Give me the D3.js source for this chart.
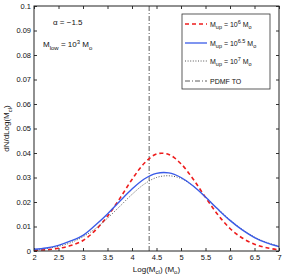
<!DOCTYPE html>
<html>
<head>
<meta charset="utf-8">
<script src="https://cdn.jsdelivr.net/npm/d3@7"></script>
<style>
  body { margin: 0; background: #fff; }
  svg text { font-family: "Liberation Sans", Arial, sans-serif; fill: #111; }
</style>
</head>
<body>
<div id="chart"></div>
<script>
"use strict";

/* ── Data ── */
const logM = [2, 2.25, 2.5, 2.75, 3, 3.25, 3.5, 3.75, 4, 4.25, 4.5,
              4.75, 5, 5.25, 5.5, 5.75, 6, 6.25, 6.5, 6.75, 7];
const mUp6   = [0.0003, 0.0005, 0.0011, 0.0022, 0.0043, 0.0084, 0.0142, 0.0214, 0.0292, 0.0358, 0.0396,
                0.0394, 0.0356, 0.0293, 0.0219, 0.0149, 0.0092, 0.0053, 0.0028, 0.0013, 0.0005];
const mUp65  = [0.0007, 0.0012, 0.0023, 0.0041, 0.0064, 0.0105, 0.0151, 0.0203, 0.0253, 0.0294, 0.0317,
                0.0319, 0.0300, 0.0265, 0.0220, 0.0171, 0.0125, 0.0086, 0.0055, 0.0033, 0.0018];
const mUp7   = [0.0005, 0.0010, 0.0019, 0.0034, 0.0058, 0.0091, 0.0134, 0.0182, 0.0231, 0.0273, 0.0300,
                0.0307, 0.0296, 0.0265, 0.0222, 0.0173, 0.0127, 0.0088, 0.0057, 0.0035, 0.0020];
const pdmfTO = 4.35;

const xTicks = [2, 2.5, 3, 3.5, 4, 4.5, 5, 5.5, 6, 6.5, 7];
const yTicks = [0, 0.01, 0.02, 0.03, 0.04, 0.05, 0.06, 0.07, 0.08, 0.09, 0.1];

/* ── Layout ── */
const W = 284, H = 277;
const margin = { top: 6, right: 5, bottom: 26, left: 34 };
const width  = W - margin.left - margin.right;
const height = H - margin.top - margin.bottom;

const svg = d3.select("#chart").append("svg")
  .attr("width", W).attr("height", H);
const g = svg.append("g")
  .attr("transform", `translate(${margin.left},${margin.top})`);

const x = d3.scaleLinear().domain([2, 7]).range([0, width]);
const y = d3.scaleLinear().domain([0, 0.1]).range([height, 0]);

/* ── Axes (MATLAB style: ticks inward, box) ── */
const tickLen = 3;
g.append("g")
  .attr("transform", `translate(0,${height})`)
  .call(d3.axisBottom(x).tickValues(xTicks).tickSize(-tickLen).tickPadding(3)
        .tickFormat(d3.format("")))
  .call(a => {
    a.select(".domain").remove();
    a.selectAll(".tick line").attr("stroke", "#333");
    a.selectAll(".tick text").attr("font-size", "7.5px").attr("dy", "0.75em");
  });
g.append("g")
  .call(d3.axisTop(x).tickValues(xTicks).tickSize(-tickLen).tickFormat(""))
  .call(a => { a.select(".domain").remove(); a.selectAll(".tick line").attr("stroke", "#333"); });

g.append("g")
  .call(d3.axisLeft(y).tickValues(yTicks).tickSize(-tickLen).tickPadding(3)
        .tickFormat(d => d === 0 ? "0" : d3.format("")(+d.toFixed(2))))
  .call(a => {
    a.select(".domain").remove();
    a.selectAll(".tick line").attr("stroke", "#333");
    a.selectAll(".tick text").attr("font-size", "7.5px");
  });
g.append("g")
  .attr("transform", `translate(${width},0)`)
  .call(d3.axisRight(y).tickValues(yTicks).tickSize(-tickLen).tickFormat(""))
  .call(a => { a.select(".domain").remove(); a.selectAll(".tick line").attr("stroke", "#333"); });

/* ── PDMF turnover line ── */
g.append("line")
  .attr("x1", x(pdmfTO)).attr("x2", x(pdmfTO))
  .attr("y1", 0).attr("y2", height)
  .attr("stroke", "#333").attr("stroke-width", 0.8)
  .attr("stroke-dasharray", "5,2,1,2");

/* ── Curves ── */
const series = [
  { vals: mUp6,  color: "#ee1c1c", width: 1.6, dash: "4,3" },
  { vals: mUp7,  color: "#555",    width: 1.0, dash: "1,1.6" },
  { vals: mUp65, color: "#3a5be8", width: 1.4, dash: null }
];
const line = d3.line()
  .x((d, i) => x(logM[i]))
  .y(d => y(d))
  .curve(d3.curveCatmullRom);

series.forEach(s => {
  g.append("path")
    .datum(s.vals)
    .attr("d", line)
    .attr("fill", "none")
    .attr("stroke", s.color)
    .attr("stroke-width", s.width)
    .attr("stroke-dasharray", s.dash);
});

/* ── Box ── */
g.append("rect")
  .attr("x", 0).attr("y", 0)
  .attr("width", width).attr("height", height)
  .attr("fill", "none").attr("stroke", "#222").attr("stroke-width", 1);

/* ── Annotations ── */
g.append("text")
  .attr("x", 19).attr("y", 19)
  .attr("font-size", "8px")
  .text("\u03b1 = \u22121.5");

const mlow = g.append("text").attr("x", 9).attr("y", 41).attr("font-size", "8px");
mlow.append("tspan").text("M");
mlow.append("tspan").attr("font-size", "6px").attr("dy", 2.5).text("low");
mlow.append("tspan").attr("dy", -2.5).text(" = 10");
mlow.append("tspan").attr("font-size", "6px").attr("dy", -3).text("3");
mlow.append("tspan").attr("dy", 3).text(" M");
mlow.append("tspan").attr("font-size", "6px").attr("dy", 2.5).text("o");

/* ── Legend ── */
const lg = g.append("g").attr("transform", `translate(${182 - margin.left},${14 - margin.top})`);
lg.append("rect")
  .attr("width", 88).attr("height", 75)
  .attr("fill", "#fff").attr("stroke", "#333").attr("stroke-width", 0.8);

const legendItems = [
  { exp: "6",   color: "#ee1c1c", width: 1.4, dash: "4,3" },
  { exp: "6.5", color: "#3a5be8", width: 1.3, dash: null },
  { exp: "7",   color: "#555",    width: 1.0, dash: "1,1.6" },
  { exp: null,  color: "#333",    width: 0.8, dash: "5,2,1,2" }
];
const rowY = [10, 29, 47, 67];

legendItems.forEach((it, i) => {
  const ry = rowY[i];
  lg.append("line")
    .attr("x1", 3).attr("x2", 25).attr("y1", ry).attr("y2", ry)
    .attr("stroke", it.color).attr("stroke-width", it.width)
    .attr("stroke-dasharray", it.dash);
  const t = lg.append("text").attr("x", 28).attr("y", ry + 2.5).attr("font-size", "7px");
  if (it.exp === null) {
    t.text("PDMF TO");
  } else {
    t.append("tspan").text("M");
    t.append("tspan").attr("font-size", "5.5px").attr("dy", 2.5).text("up");
    t.append("tspan").attr("dy", -2.5).text(" = 10");
    t.append("tspan").attr("font-size", "5.5px").attr("dy", -3).text(it.exp);
    t.append("tspan").attr("dy", 3).text(" M");
    t.append("tspan").attr("font-size", "5.5px").attr("dy", 2.5).text("o");
  }
});

/* ── Axis titles ── */
const xl = svg.append("text")
  .attr("x", margin.left + width / 2).attr("y", 272)
  .attr("text-anchor", "middle").attr("font-size", "8px");
xl.append("tspan").text("Log(M");
xl.append("tspan").attr("font-size", "6px").attr("dy", 2).text("cl");
xl.append("tspan").attr("dy", -2).text(") (M");
xl.append("tspan").attr("font-size", "6px").attr("dy", 2).text("o");
xl.append("tspan").attr("dy", -2).text(")");

const yl = svg.append("text")
  .attr("transform", `translate(9,${margin.top + height / 2}) rotate(-90)`)
  .attr("text-anchor", "middle").attr("font-size", "8px");
yl.append("tspan").text("dN/dLog(M");
yl.append("tspan").attr("font-size", "6px").attr("dy", 2.5).text("cl");
yl.append("tspan").attr("dy", -2.5).text(")");
</script>
</body>
</html>
